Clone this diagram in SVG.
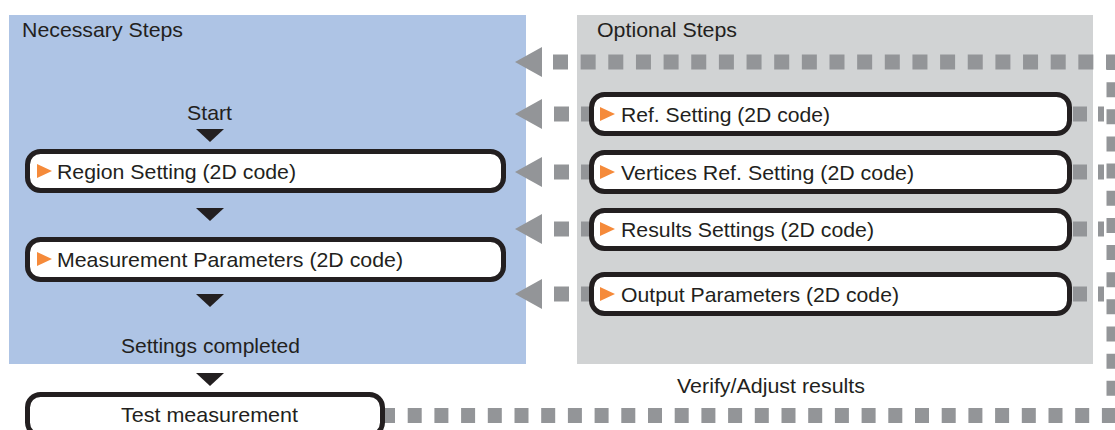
<svg xmlns="http://www.w3.org/2000/svg" width="1115" height="430" viewBox="0 0 1115 430">
  <defs>
    <style>
      .lbl { font-family: "Liberation Sans", Arial, sans-serif; font-size: 21px; fill: #231F20; }
      .box { fill: #FFFFFF; stroke: #231F20; stroke-width: 5; }
      .dash { fill: none; stroke: #939598; stroke-width: 15; }
      .ahead { fill: #939598; }
      .down { fill: #231F20; }
      .mark { fill: #F58A3A; }
    </style>
  </defs>
  <rect x="0" y="0" width="1115" height="430" fill="#FFFFFF"/>
  <g id="panels">
    <rect x="9" y="15" width="517" height="349" fill="#AEC4E5"/>
    <rect x="577" y="15" width="516" height="349" fill="#D1D3D4"/>
    <text class="lbl" x="22" y="37" textLength="161" lengthAdjust="spacingAndGlyphs">Necessary Steps</text>
    <text class="lbl" x="597" y="37" textLength="140" lengthAdjust="spacingAndGlyphs">Optional Steps</text>
  </g>
  <g id="connectors">
    <path class="dash" d="M1121,62 H553" stroke-dasharray="15 12.65"/>
    <path class="dash" d="M596,114 H553" stroke-dasharray="15 12"/>
    <path class="dash" d="M596,172 H553" stroke-dasharray="15 12"/>
    <path class="dash" d="M596,229 H553" stroke-dasharray="15 12"/>
    <path class="dash" d="M596,294 H553" stroke-dasharray="15 12"/>
    <path class="dash" d="M1104,114 H1073" stroke-dasharray="6 11 14 100"/>
    <path class="dash" d="M1104,172 H1073" stroke-dasharray="6 11 14 100"/>
    <path class="dash" d="M1104,229 H1073" stroke-dasharray="6 11 14 100"/>
    <path class="dash" d="M1104,294 H1073" stroke-dasharray="6 11 14 100"/>
    <path class="dash" d="M1114,55 V423" stroke-width="14" stroke-dasharray="15 12.15"/>
    <path class="dash" d="M381,415.5 H1121" stroke-dasharray="14 12.7"/>
    <polygon class="ahead" points="515,62 542,47 542,77"/>
    <polygon class="ahead" points="515,114 542,99 542,129"/>
    <polygon class="ahead" points="515,172 542,157 542,187"/>
    <polygon class="ahead" points="515,229 542,214 542,244"/>
    <polygon class="ahead" points="515,294 542,279 542,309"/>
    <polygon class="down" points="196,129 224,129 210,142"/>
    <polygon class="down" points="196,208 224,208 210,221"/>
    <polygon class="down" points="196,294 224,294 210,307"/>
    <polygon class="down" points="196,373 224,373 210,386"/>
    <text class="lbl" x="677" y="393" textLength="188" lengthAdjust="spacingAndGlyphs">Verify/Adjust results</text>
  </g>
  <g id="start">
    <text class="lbl" x="187" y="120" textLength="45" lengthAdjust="spacingAndGlyphs">Start</text>
  </g>
  <g id="region-setting">
    <rect class="box" x="27.5" y="151.5" width="476" height="39" rx="13"/>
    <polygon class="mark" points="37,164 52,171 37,178"/>
    <text class="lbl" x="57" y="178.5" textLength="239" lengthAdjust="spacingAndGlyphs">Region Setting (2D code)</text>
  </g>
  <g id="measurement-parameters">
    <rect class="box" x="27.5" y="239.5" width="476" height="40" rx="13"/>
    <polygon class="mark" points="37,252 52,259 37,266"/>
    <text class="lbl" x="57" y="266.5" textLength="346" lengthAdjust="spacingAndGlyphs">Measurement Parameters (2D code)</text>
  </g>
  <g id="settings-completed">
    <text class="lbl" x="121" y="353" textLength="179" lengthAdjust="spacingAndGlyphs">Settings completed</text>
  </g>
  <g id="test-measurement">
    <rect class="box" x="27.5" y="394.5" width="355" height="41" rx="13"/>
    <text class="lbl" x="121" y="422" textLength="177" lengthAdjust="spacingAndGlyphs">Test measurement</text>
  </g>
  <g id="ref-setting">
    <rect class="box" x="591.5" y="94.5" width="478" height="39" rx="13"/>
    <polygon class="mark" points="600,107 615,114 600,121"/>
    <text class="lbl" x="621" y="121.5" textLength="209" lengthAdjust="spacingAndGlyphs">Ref. Setting (2D code)</text>
  </g>
  <g id="vertices-ref-setting">
    <rect class="box" x="591.5" y="152.5" width="478" height="39" rx="13"/>
    <polygon class="mark" points="600,165 615,172 600,179"/>
    <text class="lbl" x="621" y="179.5" textLength="293" lengthAdjust="spacingAndGlyphs">Vertices Ref. Setting (2D code)</text>
  </g>
  <g id="results-settings">
    <rect class="box" x="591.5" y="210.5" width="478" height="38" rx="13"/>
    <polygon class="mark" points="600,222 615,229 600,236"/>
    <text class="lbl" x="621" y="236.5" textLength="253" lengthAdjust="spacingAndGlyphs">Results Settings (2D code)</text>
  </g>
  <g id="output-parameters">
    <rect class="box" x="591.5" y="274.5" width="478" height="39" rx="13"/>
    <polygon class="mark" points="600,287 615,294 600,301"/>
    <text class="lbl" x="621" y="301.5" textLength="278" lengthAdjust="spacingAndGlyphs">Output Parameters (2D code)</text>
  </g>
</svg>
